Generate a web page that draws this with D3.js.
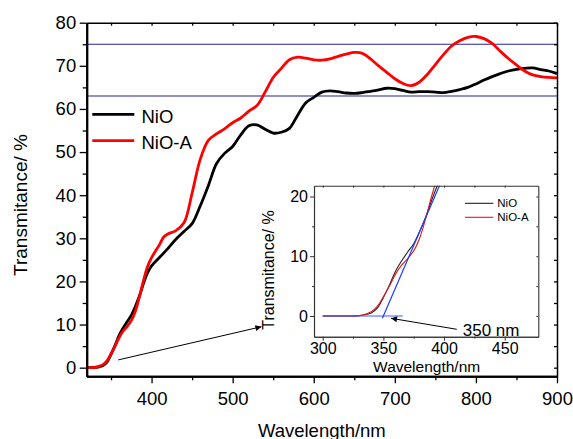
<!DOCTYPE html>
<html>
<head>
<meta charset="utf-8">
<script src="https://cdn.jsdelivr.net/npm/d3@7"></script>
<style>
  html, body { margin: 0; padding: 0; background: #fff; }
  svg { display: block; font-family: "Liberation Sans", Arial, sans-serif; }
</style>
</head>
<body>
<svg id="chart" width="573" height="439"></svg>
<script>
// Wavelength grid (nm) shared by both transmittance spectra
const wavelengths = [300, 310, 320, 330, 335, 340, 345, 350, 355, 360, 365, 370, 375, 380, 385, 390, 395,
  400, 410, 415, 420, 430, 440, 450, 460, 470, 480, 490, 500, 510, 520, 530, 540, 550, 560, 570, 580, 590,
  600, 610, 620, 630, 640, 650, 660, 670, 680, 690, 700, 710, 720, 730, 740, 750, 760, 770, 780, 790,
  800, 810, 820, 830, 840, 850, 860, 870, 880, 890, 900];

// Transmittance (%) of the NiO film
const nioT = [0, 0, 0, 0.05, 0.2, 0.5, 1.3, 3.1, 5.2, 7.5, 9.2, 10.7, 12.1, 14.2, 16.6, 19.5, 22.0,
  23.6, 25.6, 26.6, 27.6, 29.8, 31.6, 33.4, 37.5, 42.2, 47.3, 49.7, 51.3, 54.0, 56.1, 56.3, 55.3, 54.4,
  54.6, 55.5, 58.5, 61.4, 62.7, 63.9, 64.2, 64.0, 63.7, 63.6, 63.8, 64.1, 64.4, 64.8, 64.7, 64.3, 63.9,
  64.0, 64.0, 63.9, 63.8, 64.1, 64.5, 65.0, 65.8, 66.7, 67.5, 68.2, 68.8, 69.2, 69.4, 69.5, 69.1, 68.8, 68.2];

// Transmittance (%) of the NiO-A film
const nioAT = [0, 0, 0, 0.05, 0.3, 0.7, 1.6, 3.2, 5.0, 7.0, 8.5, 9.6, 10.9, 13.1, 16.4, 20.2, 23.4,
  25.5, 28.6, 30.3, 31.0, 31.8, 33.6, 40.5, 48.3, 52.7, 54.2, 55.4, 56.8, 57.9, 59.5, 60.8, 63.9, 67.3,
  69.4, 71.4, 72.0, 71.8, 71.4, 71.3, 71.6, 72.2, 72.7, 73.1, 72.9, 71.6, 70.0, 68.5, 67.0, 65.9, 65.4,
  66.2, 68.0, 70.3, 72.6, 74.6, 75.8, 76.6, 76.8, 76.3, 75.2, 73.4, 71.7, 70.2, 68.8, 67.9, 67.5, 67.3, 67.2];

const seriesNames = ["NiO", "NiO-A"];
const seriesColors = ["#000000", "#ff0000"];

// Main panel ticks
const xTicksMain = [400, 500, 600, 700, 800, 900];
const xMinorMain = [350, 450, 550, 650, 750, 850];
const yTicksMain = [0, 10, 20, 30, 40, 50, 60, 70, 80];
const yMinorMain = [5, 15, 25, 35, 45, 55, 65, 75];

// Horizontal reference levels (%)
const refLevels = [63, 75];

// Inset ticks
const xTicksInset = [300, 350, 400, 450];
const xMinorInset = [325, 375, 425];
const yTicksInset = [0, 10, 20];
const yMinorInset = [5, 15];

// Absorption-edge construction: tangent and baseline (nm, %)
const tangentX = [349.2, 400];
const tangentY = [-0.4, 23.6];
const baselineX = [300, 366];
const baselineY = [0, 0];
const onsetLabel = "350 nm";

const FONT = 18.5;
const svg = d3.select("#chart");

// ---------- main panel ----------
const x = d3.scaleLinear().domain([320, 900]).range([86.7, 557]);
const y = d3.scaleLinear().domain([-2, 80]).range([376.3, 22.7]);

const defs = svg.append("defs");
defs.append("clipPath").attr("id", "mainClip")
  .append("rect").attr("x", x(320)).attr("y", y(80))
  .attr("width", x(900) - x(320)).attr("height", y(-2) - y(80));

defs.append("marker").attr("id", "arrowHead")
  .attr("viewBox", "0 0 10 10").attr("refX", 10).attr("refY", 5)
  .attr("markerUnits", "userSpaceOnUse")
  .attr("markerWidth", 8).attr("markerHeight", 6).attr("orient", "auto")
  .append("path").attr("d", "M0,0 L10,5 L0,10 Z").attr("fill", "#000");

// reference lines
svg.append("g").selectAll("line").data(refLevels).join("line")
  .attr("x1", x(320)).attr("x2", x(900))
  .attr("y1", d => y(d)).attr("y2", d => y(d))
  .attr("stroke", "#22229a").attr("stroke-width", 1.2);

const mainLine = vals => d3.line()
  .x((d, i) => x(wavelengths[i]))
  .y(d => y(d))
  .curve(d3.curveCatmullRom.alpha(0.5))(vals);

const mainG = svg.append("g").attr("clip-path", "url(#mainClip)");
[nioT, nioAT].forEach((vals, k) => {
  mainG.append("path").attr("d", mainLine(vals))
    .attr("fill", "none").attr("stroke", seriesColors[k])
    .attr("stroke-width", 2.8).attr("stroke-linejoin", "round");
});

// axes
function styleAxis(g, width) {
  g.selectAll("path.domain").attr("stroke", "#000").attr("stroke-width", width);
  g.selectAll(".tick line").attr("stroke", "#000").attr("stroke-width", 1.3);
  g.selectAll("text").attr("font-size", FONT).attr("fill", "#000")
    .attr("font-family", "'Liberation Sans', Arial, sans-serif");
}

const gx = svg.append("g").attr("transform", `translate(0,${y(-2)})`)
  .call(d3.axisBottom(x).tickValues(xTicksMain).tickSize(7).tickSizeOuter(0).tickPadding(9));
styleAxis(gx, 2);
svg.append("g").attr("transform", `translate(0,${y(-2)})`)
  .call(d3.axisBottom(x).tickValues(xMinorMain).tickSize(4).tickSizeOuter(0).tickFormat(""))
  .call(g => styleAxis(g, 2));

const gy = svg.append("g").attr("transform", `translate(${x(320)},0)`)
  .call(d3.axisLeft(y).tickValues(yTicksMain).tickSize(7).tickSizeOuter(0).tickPadding(3.5));
styleAxis(gy, 2);
svg.append("g").attr("transform", `translate(${x(320)},0)`)
  .call(d3.axisLeft(y).tickValues(yMinorMain).tickSize(4).tickSizeOuter(0).tickFormat(""))
  .call(g => styleAxis(g, 2));

// top and right frame with inward ticks
svg.append("g").attr("transform", `translate(0,${y(80)})`)
  .call(d3.axisBottom(x).tickValues(xTicksMain.concat(xMinorMain)).tickSize(3).tickSizeOuter(0).tickFormat(""))
  .call(g => styleAxis(g, 1.5));
svg.append("g").attr("transform", `translate(${x(900)},0)`)
  .call(d3.axisLeft(y).tickValues(yTicksMain.concat(yMinorMain)).tickSize(3).tickSizeOuter(0).tickFormat(""))
  .call(g => styleAxis(g, 1.5));

// axis titles
svg.append("text").attr("x", (x(320) + x(900)) / 2).attr("y", 436.5)
  .attr("text-anchor", "middle").attr("font-size", FONT).text("Wavelength/nm");
svg.append("text").attr("transform", "translate(26.5,205) rotate(-90)")
  .attr("text-anchor", "middle").attr("font-size", FONT + 0.5).text("Transmitance/ %");

// legend
const legend = svg.append("g");
seriesNames.forEach((name, k) => {
  const ly = 114.3 + k * 26.4;
  legend.append("line").attr("x1", 92.3).attr("x2", 134.3).attr("y1", ly).attr("y2", ly)
    .attr("stroke", seriesColors[k]).attr("stroke-width", 2.8);
  legend.append("text").attr("x", 141.5).attr("y", ly + 8.3)
    .attr("font-size", FONT).text(name);
});

// pointer from the absorption edge to the inset
svg.append("line")
  .attr("x1", x(358.9)).attr("y1", y(1.8))
  .attr("x2", x(535.5)).attr("y2", y(9.5))
  .attr("stroke", "#000").attr("stroke-width", 1)
  .attr("marker-end", "url(#arrowHead)");

// ---------- inset ----------
const xi = d3.scaleLinear().domain([292.8, 477.7]).range([314, 538.3]);
const yi = d3.scaleLinear().domain([-3.47, 21.8]).range([336.7, 185.7]);
const IFONT = 16;

svg.append("rect").attr("x", xi(292.8)).attr("y", yi(21.8))
  .attr("width", xi(477.7) - xi(292.8)).attr("height", yi(-3.47) - yi(21.8))
  .attr("fill", "#fff");

defs.append("clipPath").attr("id", "insetClip")
  .append("rect").attr("x", xi(292.8)).attr("y", yi(21.8))
  .attr("width", xi(477.7) - xi(292.8)).attr("height", yi(-3.47) - yi(21.8));

const insetG = svg.append("g").attr("clip-path", "url(#insetClip)");
const insetLine = vals => d3.line()
  .x((d, i) => xi(wavelengths[i]))
  .y(d => yi(d))
  .curve(d3.curveCatmullRom.alpha(0.5))(vals);
[nioT, nioAT].forEach((vals, k) => {
  insetG.append("path").attr("d", insetLine(vals))
    .attr("fill", "none").attr("stroke", k === 0 ? "#222" : "#e8141a")
    .attr("stroke-width", 1.1);
});
insetG.append("line")
  .attr("x1", xi(baselineX[0])).attr("y1", yi(baselineY[0]))
  .attr("x2", xi(baselineX[1])).attr("y2", yi(baselineY[1]))
  .attr("stroke", "#3a5cff").attr("stroke-width", 1.1);
insetG.append("line")
  .attr("x1", xi(tangentX[0])).attr("y1", yi(tangentY[0]))
  .attr("x2", xi(tangentX[1])).attr("y2", yi(tangentY[1]))
  .attr("stroke", "#1a3cff").attr("stroke-width", 1.2);

function styleInset(g) {
  g.selectAll("path.domain").attr("stroke", "#333").attr("stroke-width", 1.1);
  g.selectAll(".tick line").attr("stroke", "#333").attr("stroke-width", 1);
  g.selectAll("text").attr("font-size", IFONT).attr("fill", "#000")
    .attr("font-family", "'Liberation Sans', Arial, sans-serif");
}
svg.append("g").attr("transform", `translate(0,${yi(-3.47)})`)
  .call(d3.axisBottom(xi).tickValues(xTicksInset).tickSize(4).tickSizeOuter(0).tickPadding(1.5))
  .call(styleInset);
svg.append("g").attr("transform", `translate(0,${yi(-3.47)})`)
  .call(d3.axisBottom(xi).tickValues(xMinorInset).tickSize(2).tickSizeOuter(0).tickFormat(""))
  .call(styleInset);
svg.append("g").attr("transform", `translate(${xi(292.8)},0)`)
  .call(d3.axisLeft(yi).tickValues(yTicksInset).tickSize(4).tickSizeOuter(0).tickPadding(2))
  .call(styleInset);
svg.append("g").attr("transform", `translate(${xi(292.8)},0)`)
  .call(d3.axisLeft(yi).tickValues(yMinorInset).tickSize(2).tickSizeOuter(0).tickFormat(""))
  .call(styleInset);
svg.append("g").attr("transform", `translate(0,${yi(21.8)})`)
  .call(d3.axisBottom(xi).tickValues(xTicksInset.concat(xMinorInset)).tickSize(2).tickSizeOuter(0).tickFormat(""))
  .call(styleInset);
svg.append("g").attr("transform", `translate(${xi(477.7)},0)`)
  .call(d3.axisLeft(yi).tickValues(yTicksInset.concat(yMinorInset)).tickSize(2).tickSizeOuter(0).tickFormat(""))
  .call(styleInset);

svg.append("text").attr("x", (xi(292.8) + xi(477.7)) / 2 + 0.5).attr("y", 371.5)
  .attr("text-anchor", "middle").attr("font-size", 15.5).text("Wavelength/nm");
svg.append("text").attr("transform", "translate(273.5,270) rotate(-90)")
  .attr("text-anchor", "middle").attr("font-size", IFONT).text("Transmitance/ %");

// inset legend
seriesNames.forEach((name, k) => {
  const ly = 203.3 + k * 14;
  svg.append("line").attr("x1", 465).attr("x2", 493.3).attr("y1", ly).attr("y2", ly)
    .attr("stroke", k === 0 ? "#222" : "#e8141a").attr("stroke-width", 1.1);
  svg.append("text").attr("x", 497.3).attr("y", ly + 4)
    .attr("font-size", 11.5).text(name);
});

// onset annotation
svg.append("line")
  .attr("x1", xi(410.5)).attr("y1", yi(-2.23))
  .attr("x2", xi(356.3)).attr("y2", yi(-0.39))
  .attr("stroke", "#000").attr("stroke-width", 1)
  .attr("marker-end", "url(#arrowHead)");
svg.append("text").attr("x", xi(415.4)).attr("y", 336)
  .attr("font-size", 17).text(onsetLabel);
</script>
</body>
</html>
